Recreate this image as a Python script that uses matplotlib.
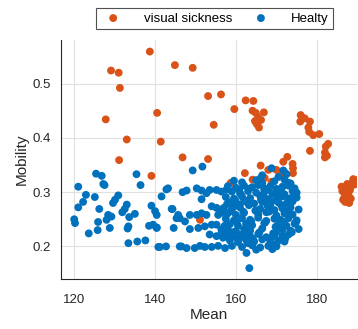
import matplotlib
matplotlib.use('Agg')
import matplotlib.pyplot as plt

# visual sickness group (Mean, Mobility)
sick_mean = [
    138.7, 129.1, 131.0, 144.9, 149.3, 131.3, 153.1, 156.3, 140.5, 127.8,
    159.6, 154.5, 162.4, 164.3, 164.1, 164.9, 166.9, 165.5, 164.7, 166.2,
    165.2, 165.7, 165.0, 176.0, 177.0, 175.9, 178.3, 177.9, 178.1, 179.1,
    180.6, 133.0, 141.4, 131.1, 146.8, 153.1, 139.1, 178.3, 182.8, 182.2,
    182.0, 182.5, 182.0, 172.7, 171.7, 174.0, 174.1, 166.1, 162.2, 164.1,
    168.0, 170.0, 172.1, 174.1, 168.8, 167.1, 170.9, 158.7, 151.1,
    186.1, 189.0, 189.8, 188.2, 187.4, 188.0, 186.5, 186.9, 187.5, 188.5,
    186.3, 187.8, 188.8, 186.8, 187.2, 189.3, 188.4, 187.0,
]
sick_mob = [
    0.559, 0.524, 0.520, 0.534, 0.529, 0.492, 0.477, 0.480, 0.446, 0.434,
    0.453, 0.424, 0.469, 0.468, 0.450, 0.446, 0.447, 0.438, 0.431, 0.433,
    0.425, 0.419, 0.428, 0.442, 0.436, 0.430, 0.430, 0.419, 0.411, 0.405,
    0.407, 0.397, 0.393, 0.359, 0.364, 0.361, 0.330, 0.376, 0.389, 0.384,
    0.373, 0.367, 0.364, 0.365, 0.356, 0.352, 0.344, 0.349, 0.335, 0.323,
    0.341, 0.341, 0.336, 0.335, 0.319, 0.326, 0.330, 0.317, 0.249,
    0.310, 0.324, 0.322, 0.304, 0.292, 0.280, 0.286, 0.298, 0.315, 0.312,
    0.302, 0.296, 0.318, 0.290, 0.305, 0.314, 0.288, 0.282,
]

# healthy group, sparse left part
healthy_mean = [
    125.4, 126.8, 127.2, 127.5, 121.0, 135.4, 136.4, 122.9, 125.1, 122.2,
    121.0, 126.2, 130.9, 130.1, 129.6, 133.0, 132.5, 131.9, 135.0, 133.6,
    129.2, 128.4, 128.0, 120.0, 120.2, 125.9, 128.8, 125.8, 123.6, 133.4,
    133.2, 133.4, 135.6, 137.6, 139.1, 140.0, 140.4, 138.5, 140.4, 140.8,
    142.7, 142.8, 141.6, 144.3, 145.3, 144.6, 146.1, 149.3, 151.7, 143.2,
    146.8, 147.8, 150.3, 151.5, 152.7, 153.5, 155.2, 156.4, 157.7, 151.5,
    144.1, 145.7, 146.1, 147.4, 148.6, 150.3, 151.5, 152.7, 154.0, 155.2,
    156.4, 155.6, 148.6, 150.7, 152.3, 154.0, 155.2, 156.4, 157.7, 153.5,
    155.2, 156.8, 141.2, 146.5, 147.8, 149.8, 151.1, 152.3, 154.0, 155.6,
    157.3, 139.5, 140.4, 162.6, 163.3, 168.8, 171.7,
]
healthy_mob = [
    0.334, 0.330, 0.315, 0.313, 0.310, 0.333, 0.313, 0.295, 0.291, 0.282,
    0.272, 0.269, 0.294, 0.286, 0.280, 0.277, 0.269, 0.263, 0.260, 0.254,
    0.255, 0.258, 0.249, 0.250, 0.243, 0.245, 0.234, 0.230, 0.224, 0.237,
    0.233, 0.206, 0.209, 0.211, 0.275, 0.265, 0.258, 0.238, 0.235, 0.199,
    0.200, 0.305, 0.292, 0.269, 0.252, 0.234, 0.200, 0.340, 0.347, 0.307,
    0.300, 0.303, 0.307, 0.303, 0.298, 0.304, 0.304, 0.301, 0.305, 0.287,
    0.269, 0.258, 0.252, 0.246, 0.258, 0.258, 0.261, 0.258, 0.274, 0.271,
    0.268, 0.258, 0.232, 0.234, 0.237, 0.240, 0.240, 0.231, 0.234, 0.222,
    0.219, 0.216, 0.199, 0.200, 0.197, 0.197, 0.201, 0.199, 0.199, 0.201,
    0.197, 0.240, 0.234, 0.188, 0.160, 0.344, 0.340,
]

# healthy group, dense cluster around 157-176
dense_mean = [
    166.5, 170.5, 172.5, 159.5, 161.5, 165.0, 166.5, 169.5, 172.0, 173.5,
    158.0, 160.0, 162.0, 164.0, 165.5, 167.0, 168.5, 170.0, 171.5, 173.0, 174.5,
    159.0, 161.0, 163.0, 165.0, 167.0, 169.0, 170.5, 172.0, 174.0, 175.0,
    157.5, 159.5, 161.5, 163.5, 166.0, 168.0, 170.0, 171.5, 173.0, 175.0,
    158.5, 160.5, 162.0, 164.5, 166.5, 168.5, 170.5, 172.5, 174.0,
    157.0, 159.0, 161.0, 166.0, 168.0, 169.5, 171.5, 173.5, 175.5,
    158.0, 160.0, 162.0, 165.5, 167.5, 170.0, 172.0, 174.0,
    157.5, 159.5, 161.5, 163.5, 165.5, 167.5, 169.5, 171.0, 173.0, 175.0,
    158.5, 160.5, 162.5, 164.0, 167.0, 170.5, 172.5, 174.5,
    158.0, 160.0, 162.0, 163.5, 166.5, 170.0, 171.5, 173.5, 175.5,
    157.5, 159.5, 161.5, 163.5, 165.5, 167.5, 169.5, 171.5, 173.0,
    158.5, 160.5, 162.5, 164.5, 166.5, 168.5, 170.5, 172.0,
    159.0, 161.5, 164.0, 166.0, 168.0, 170.0, 165.0, 169.0,
    # in-between points filling the cluster
    160.8, 163.2, 167.8, 171.2, 174.2, 159.8, 162.8, 166.2, 169.8, 173.2,
    158.8, 161.8, 164.8, 168.2, 172.8, 160.2, 163.8, 167.2, 171.8, 174.8,
    159.2, 162.2, 165.8, 169.2, 173.8, 160.8, 164.2, 168.8, 172.2, 158.2,
    161.2, 166.8, 170.8, 174.2, 159.8, 163.2, 167.8, 171.2, 162.8, 169.8,
    156.8, 157.2, 156.5, 157.8, 173.0, 166.0, 163.0, 170.0,
]
dense_mob = [
    0.331, 0.328, 0.333, 0.321, 0.318, 0.322, 0.317, 0.320, 0.323, 0.316,
    0.311, 0.308, 0.312, 0.309, 0.313, 0.307, 0.311, 0.306, 0.310, 0.312, 0.307,
    0.301, 0.298, 0.302, 0.299, 0.303, 0.297, 0.301, 0.296, 0.302, 0.299,
    0.291, 0.288, 0.292, 0.289, 0.293, 0.287, 0.290, 0.292, 0.288, 0.290,
    0.281, 0.278, 0.283, 0.279, 0.282, 0.277, 0.281, 0.279, 0.283,
    0.271, 0.268, 0.272, 0.269, 0.273, 0.267, 0.270, 0.272, 0.268,
    0.261, 0.258, 0.262, 0.259, 0.263, 0.257, 0.261, 0.259,
    0.251, 0.248, 0.252, 0.249, 0.253, 0.247, 0.251, 0.249, 0.252, 0.248,
    0.241, 0.238, 0.242, 0.239, 0.243, 0.240, 0.238, 0.242,
    0.231, 0.228, 0.232, 0.229, 0.233, 0.227, 0.231, 0.229, 0.232,
    0.221, 0.218, 0.222, 0.219, 0.223, 0.217, 0.221, 0.219, 0.222,
    0.211, 0.208, 0.212, 0.209, 0.213, 0.207, 0.211, 0.209,
    0.201, 0.199, 0.202, 0.198, 0.201, 0.200, 0.194, 0.195,
    0.305, 0.306, 0.304, 0.305, 0.306, 0.285, 0.284, 0.286, 0.285, 0.284,
    0.265, 0.264, 0.266, 0.264, 0.265, 0.245, 0.246, 0.244, 0.245, 0.244,
    0.226, 0.225, 0.226, 0.224, 0.226, 0.215, 0.214, 0.216, 0.215, 0.216,
    0.296, 0.295, 0.296, 0.294, 0.275, 0.276, 0.275, 0.276, 0.235, 0.236,
    0.262, 0.238, 0.226, 0.278, 0.317, 0.325, 0.206, 0.204,
]

xticks = [120, 140, 160, 180]
yticks = [0.2, 0.3, 0.4, 0.5]

plt.rcParams['font.family'] = ['Liberation Sans', 'DejaVu Sans']

fig = plt.figure(figsize=(3.58, 3.29), dpi=100)
ax = fig.add_axes([0.170, 0.152, 0.828, 0.726])

orange = '#D95319'
blue = '#0072BD'
ax.scatter(sick_mean, sick_mob, s=32, c=orange, edgecolors='none',
           label='visual sickness', zorder=3)
ax.scatter(healthy_mean + dense_mean, healthy_mob + dense_mob, s=32, c=blue,
           edgecolors='none', label='Healty', zorder=3)

ax.set_xlim(116.7, 190)
ax.set_ylim(0.14, 0.58)
ax.set_xticks(xticks)
ax.set_yticks(yticks)
ax.grid(True, color='#e0e0e0', linewidth=0.8, zorder=0)
ax.set_axisbelow(True)
for side in ['top', 'right']:
    ax.spines[side].set_visible(False)
for side in ['left', 'bottom']:
    ax.spines[side].set_color('#262626')
    ax.spines[side].set_linewidth(0.8)
ax.tick_params(direction='in', length=0, labelsize=9.5, colors='#262626')
ax.tick_params(axis='x', pad=11)
ax.tick_params(axis='y', pad=7)
ax.set_xlabel('Mean', fontsize=11, color='#262626', labelpad=1)
ax.set_ylabel('Mobility', fontsize=11, color='#262626', labelpad=3)

leg = fig.legend(loc='center', bbox_to_anchor=(0.599, 0.944), ncol=2,
                 fontsize=9.5, frameon=True, fancybox=False, edgecolor='#262626',
                 handletextpad=1.3, columnspacing=1.2, borderpad=0.3,
                 borderaxespad=0, markerscale=1.0)
leg.get_frame().set_linewidth(0.8)

fig.savefig('out.png', dpi=100, facecolor='white')
